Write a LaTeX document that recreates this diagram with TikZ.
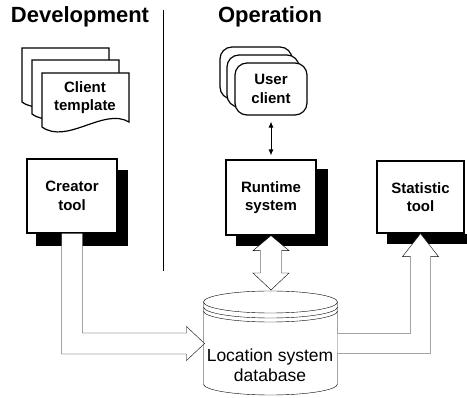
\documentclass[tikz,border=0pt]{standalone}
\usepackage{fontspec}
\setmainfont{Liberation Sans}
\usetikzlibrary{calc,arrows.meta}
\pgfdeclarelayer{bg}
\pgfsetlayers{bg,main}
\begin{document}
\begin{tikzpicture}[x=1pt,y=-1pt,line width=1.2pt,line join=miter,
  lbl/.style={font=\bfseries\fontsize{15}{18.5}\selectfont,align=center},
  boxx/.style={draw,fill=white,lbl,inner sep=0pt},
  titl/.style={font=\bfseries\fontsize{22}{26}\selectfont,inner sep=0pt},
  hollow/.style={draw,fill=white},
  uclient/.style={draw,fill=white,rounded corners=12pt,minimum width=72pt,minimum height=52pt,inner sep=0pt},
  docpic/.pic={\draw[fill=white] (0,0) -- (87,0) -- (87,49) .. controls (62,34) and (25,72) .. (0,54) -- cycle;},
  dbfont/.style={font=\fontsize{17.5}{20}\selectfont,align=center,inner sep=0pt}]
\useasboundingbox (0,0) rectangle (467,398);

% titles
\node[titl] (dev) at (80,17) {Development};
\node[titl] (op) at (270,17) {Operation};

% separator
\coordinate (sepT) at (163.5,10);
\coordinate (sepB) at (163.5,271);
\draw[line width=0.8pt] (sepT) -- (sepB);

% client template stack
\pic at (22,48) {docpic};
\pic at (32,60) {docpic};
\pic at (42,73) {docpic};
\node[lbl] (tmpl) at (85,97.5) {Client\\template};

% user client stack
\node[uclient] (user3) at (256,73) {};
\node[uclient] (user2) at (263,81) {};
\node[uclient,lbl] (user) at (271,89) {User\\client};

% boxes
\node[boxx,minimum width=90pt,minimum height=74pt] (creator) at (72,196) {Creator\\tool};
\node[boxx,minimum width=90pt,minimum height=75pt] (run) at (271,197.5) {Runtime\\system};
\node[boxx,minimum width=87pt,minimum height=72pt] (stat) at (420.5,197) {Statistic\\tool};

% shadows
\begin{pgfonlayer}{bg}
\fill ($(creator.north west)+(10,12)$) rectangle ($(creator.south east)+(10,12)$);
\fill ($(run.north west)+(11,10)$) rectangle ($(run.south east)+(11,10)$);
\fill ($(stat.south west)+(11,0)$) rectangle ($(stat.south east)+(11,10)$);
\end{pgfonlayer}

% database
\draw[fill=white] (203.5,302) -- (203.5,384) arc[start angle=180,end angle=0,x radius=67,y radius=11]
  -- (337.5,302) arc[start angle=0,end angle=-180,x radius=67,y radius=11] -- cycle;
\draw (203.5,302) arc[start angle=180,end angle=0,x radius=67,y radius=11];
\draw (203.5,307) arc[start angle=180,end angle=0,x radius=67,y radius=11];
\draw (203.5,311) arc[start angle=180,end angle=0,x radius=67,y radius=11];
\node[dbfont] (db) at (270,365) {Location system\\database};
\coordinate (dbL) at (204.5,343.5);
\coordinate (dbR) at (337.5,343.5);
\coordinate (dbT) at (271,290);

% small double arrow
\draw[line width=0.8pt,{Latex[length=6pt,width=5pt]}-{Latex[length=6pt,width=5pt]},shorten <=6pt,shorten >=4pt] (user.south) -- (run.north);

% creator -> db
\draw[hollow] ($(creator.south)+(-10.5,0)$) |- ($(dbL)+(-18,10.5)$) -- ($(dbL)+(-18,17)$) -- (dbL)
  -- ($(dbL)+(-18,-17)$) -- ($(dbL)+(-18,-10.5)$) -| ($(creator.south)+(10.5,0)$);

% runtime <-> db
\draw[hollow] (run.south) -- ($(run.south)+(18,15)$) -- ($(run.south)+(10.5,15)$) -- ($(dbT)+(10.5,-17)$)
  -- ($(dbT)+(18,-17)$) -- (dbT) -- ($(dbT)+(-18,-17)$) -- ($(dbT)+(-10.5,-17)$)
  -- ($(run.south)+(-10.5,15)$) -- ($(run.south)+(-18,15)$) -- cycle;

% db -> statistic
\draw[hollow] ($(dbR)+(0,10)$) -| ($(stat.south)+(10,23)$) -- ($(stat.south)+(18,23)$) -- (stat.south)
  -- ($(stat.south)+(-18,23)$) -- ($(stat.south)+(-10,23)$) |- ($(dbR)+(0,-10)$);
\end{tikzpicture}
\end{document}
